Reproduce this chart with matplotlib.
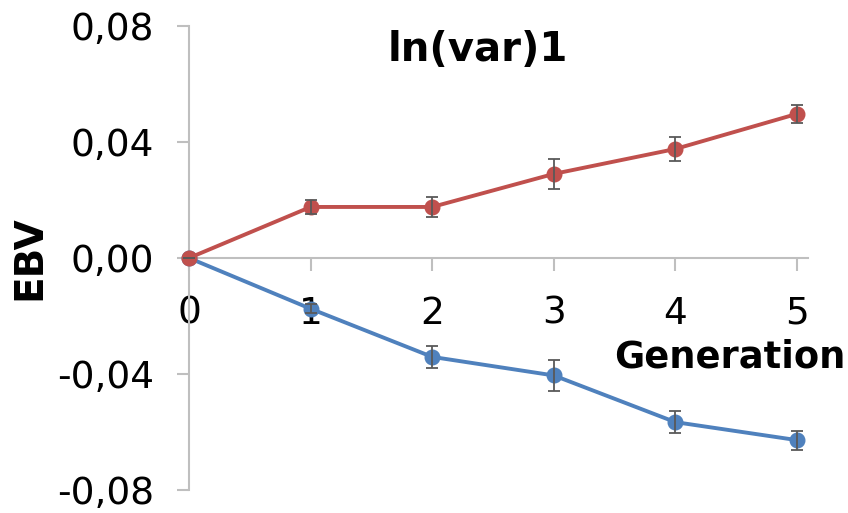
import matplotlib
matplotlib.use("Agg")
import matplotlib.pyplot as plt
from matplotlib.ticker import FixedLocator, FuncFormatter

plt.rcParams['font.family'] = ['DejaVu Sans']

generations = [0, 1, 2, 3, 4, 5]
red_values = [0.0, 0.0176, 0.0176, 0.0290, 0.0376, 0.0497]
red_errors = [0.0, 0.0025, 0.0035, 0.0053, 0.0040, 0.0032]
blue_values = [0.0, -0.0175, -0.0341, -0.0405, -0.0566, -0.0628]
blue_errors = [0.0, 0.0015, 0.0037, 0.0053, 0.0038, 0.0033]
y_ticks = [-0.08, -0.04, 0.0, 0.04, 0.08]

RED = '#C0504D'
BLUE = '#4F81BD'
AXIS = '#BFBFBF'
ERR = '#595959'

fig = plt.figure(figsize=(8.48, 5.13), dpi=100)
ax = fig.add_axes([189/848, 1 - 490/513, (808 - 189)/848, (490 - 26)/513])

for vals, errs, col in [(blue_values, blue_errors, BLUE), (red_values, red_errors, RED)]:
    ax.plot(generations, vals, color=col, lw=2.8, marker='o', markersize=10.5,
            markeredgecolor=col, clip_on=False, zorder=3)
    ax.errorbar(generations, vals, yerr=errs, fmt='none', ecolor=ERR,
                elinewidth=1.3, capsize=4.3, capthick=1.3, zorder=4, clip_on=False)

ax.set_xlim(0, 5 + 11/121.6)
ax.set_ylim(-0.08, 0.08)

ax.spines['top'].set_visible(False)
ax.spines['right'].set_visible(False)
ax.spines['bottom'].set_position(('data', 0))
ax.spines['left'].set_position(('data', 0))
for s in ['bottom', 'left']:
    ax.spines[s].set_color(AXIS)
    ax.spines[s].set_linewidth(1.5)

ax.xaxis.set_major_locator(FixedLocator(generations))
ax.yaxis.set_major_locator(FixedLocator(y_ticks))
ax.yaxis.set_major_formatter(FuncFormatter(lambda v, p: f"{v:.2f}".replace('.', ',').replace('-0,00', '0,00')))
ax.tick_params(axis='both', direction='out', length=9, width=1.5, color=AXIS,
               labelsize=27, labelcolor='black')
ax.tick_params(axis='x', pad=18)
ax.tick_params(axis='y', pad=16)

fig.text(478/848, 1 - 50/513, 'ln(var)1', ha='center', va='center',
         fontsize=29, fontweight='heavy')
fig.text(845/848, 1 - 367/513, 'Generation', ha='right', va='baseline',
         fontsize=26.5, fontweight='bold')
fig.text(29/848, 1 - 258/513, 'EBV', ha='center', va='center', rotation=90,
         fontsize=28, fontweight='bold')

fig.savefig('out.png', dpi=100)
